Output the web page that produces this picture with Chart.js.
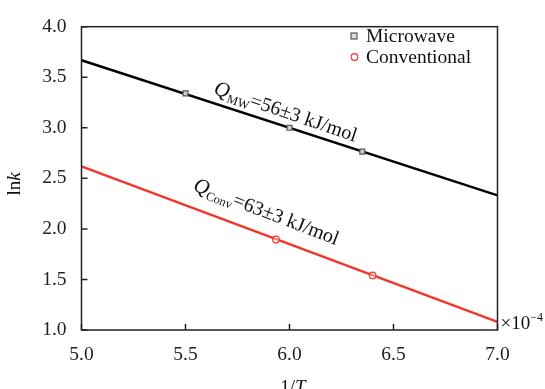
<!DOCTYPE html>
<html>
<head>
<meta charset="utf-8">
<script src="https://cdn.jsdelivr.net/npm/chart.js@4/dist/chart.umd.min.js"></script>
<style>
  html, body { margin: 0; padding: 0; background: #fff; }
</style>
</head>
<body>
<canvas id="chart" width="545" height="389"></canvas>
<script>
// data
const xTickValues = [5.0, 5.5, 6.0, 6.5, 7.0];
const yTickValues = [1.0, 1.5, 2.0, 2.5, 3.0, 3.5, 4.0];
const mwX = [5.5, 6.0, 6.35];
const mwY = [3.34, 3.0, 2.765];
const convX = [5.935, 6.4];
const convY = [1.895, 1.54];
const mwFitX = [5.0, 7.0];
const mwFitY = [3.668, 2.332];
const convFitX = [5.0, 7.0];
const convFitY = [2.619, 1.08];

const SERIF = '"Liberation Serif", "Times New Roman", serif';
const RED = "#f2362a";
const AXIS = "#222";

const pts = (xs, ys) => xs.map((x, i) => ({ x, y: ys[i] }));

// draw a row of text pieces (for italics / sub- and superscripts)
function drawRuns(ctx, runs, x, y, align) {
  let total = 0;
  runs.forEach((r) => { ctx.font = r.font; total += ctx.measureText(r.t).width; });
  let cx = align === "center" ? x - total / 2 : x;
  runs.forEach((r) => {
    ctx.font = r.font;
    ctx.fillText(r.t, cx, y + (r.dy || 0));
    cx += ctx.measureText(r.t).width;
  });
}

const framePlugin = {
  id: "frame",
  afterDraw(chart) {
    const { ctx, chartArea: a, scales } = chart;
    ctx.save();
    ctx.strokeStyle = AXIS;
    ctx.lineWidth = 1.5;
    ctx.strokeRect(a.left, a.top, a.right - a.left, a.bottom - a.top);
    // inward ticks
    ctx.beginPath();
    scales.x.ticks.forEach((t) => {
      const px = scales.x.getPixelForValue(t.value);
      ctx.moveTo(px, a.bottom);
      ctx.lineTo(px, a.bottom - 6);
    });
    scales.y.ticks.forEach((t) => {
      const py = scales.y.getPixelForValue(t.value);
      ctx.moveTo(a.left, py);
      ctx.lineTo(a.left + 6, py);
    });
    ctx.stroke();
    ctx.restore();
  },
};

const textPlugin = {
  id: "texts",
  afterDraw(chart) {
    const { ctx, chartArea: a, scales } = chart;
    ctx.save();
    ctx.fillStyle = "#111";
    ctx.textBaseline = "alphabetic";

    // fit labels along the lines
    const label = (xv, yv, deg, sub) => {
      ctx.save();
      ctx.translate(scales.x.getPixelForValue(xv), scales.y.getPixelForValue(yv));
      ctx.rotate((deg * Math.PI) / 180);
      drawRuns(ctx, [
        { t: "Q", font: "italic 21px " + SERIF },
        { t: sub[0], font: "12.5px " + SERIF, dy: 4 },
        { t: sub[1], font: "20px " + SERIF },
      ], 0, 7, "center");
      ctx.restore();
    };
    label(5.983, 3.167, 18.8, ["MW", "=56\u00b13 kJ/mol"]);
    label(5.89, 2.177, 21, ["Conv", "=63\u00b13 kJ/mol"]);

    // x-axis multiplier
    drawRuns(ctx, [
      { t: "\u00d710", font: "19px " + SERIF },
      { t: "\u22124", font: "12px " + SERIF, dy: -8 },
    ], a.right + 3, a.bottom - 1, "left");

    // axis titles
    drawRuns(ctx, [
      { t: "1/", font: "19px " + SERIF },
      { t: "T", font: "italic 19px " + SERIF },
    ], 293, 393, "center");
    ctx.save();
    ctx.translate(20, 184);
    ctx.rotate(-Math.PI / 2);
    drawRuns(ctx, [
      { t: "ln", font: "19px " + SERIF },
      { t: "k", font: "italic 19px " + SERIF },
    ], 0, 0, "center");
    ctx.restore();

    // legend
    ctx.textBaseline = "middle";
    ctx.font = "19.5px " + SERIF;
    ctx.lineWidth = 1.2;
    ctx.strokeStyle = "#555";
    ctx.fillStyle = "#ddd";
    ctx.fillRect(351, 33, 6, 6);
    ctx.strokeRect(351, 33, 6, 6);
    ctx.strokeStyle = RED;
    ctx.beginPath();
    ctx.arc(354.5, 57, 3.3, 0, Math.PI * 2);
    ctx.stroke();
    ctx.fillStyle = "#111";
    ctx.fillText("Microwave", 366, 37);
    ctx.fillText("Conventional", 366, 58);
    ctx.restore();
  },
};

new Chart(document.getElementById("chart"), {
  type: "scatter",
  data: {
    datasets: [
      {
        label: "Microwave",
        data: pts(mwX, mwY),
        pointStyle: "rect",
        pointRadius: 3.5,
        borderColor: "#555",
        backgroundColor: "#ccc",
        borderWidth: 1.2,
      },
      {
        label: "Conventional",
        data: pts(convX, convY),
        pointStyle: "circle",
        pointRadius: 3.3,
        borderColor: RED,
        backgroundColor: "rgba(255,255,255,0.4)",
        borderWidth: 1.2,
      },
      {
        label: "MW fit",
        data: pts(mwFitX, mwFitY),
        showLine: true,
        borderColor: "#000",
        borderWidth: 2.4,
        pointRadius: 0,
      },
      {
        label: "Conv fit",
        data: pts(convFitX, convFitY),
        showLine: true,
        borderColor: RED,
        borderWidth: 2.4,
        pointRadius: 0,
      },
    ],
  },
  options: {
    responsive: false,
    animation: false,
    layout: { padding: { left: 0, top: 20, right: 47.5, bottom: 0 } },
    plugins: { legend: { display: false }, tooltip: { enabled: false } },
    scales: {
      x: {
        type: "linear",
        min: 5.0,
        max: 7.0,
        afterBuildTicks: (s) => { s.ticks = xTickValues.map((v) => ({ value: v })); },
        afterFit: (s) => { s.height = 59; },
        grid: { display: false, drawTicks: false },
        border: { display: false },
        ticks: {
          padding: 13,
          color: "#222",
          font: { family: SERIF, size: 19.5 },
          callback: (v) => v.toFixed(1),
        },
      },
      y: {
        type: "linear",
        min: 1.0,
        max: 4.0,
        afterBuildTicks: (s) => { s.ticks = yTickValues.map((v) => ({ value: v })); },
        afterFit: (s) => { s.width = 81.5; },
        grid: { display: false, drawTicks: false },
        border: { display: false },
        ticks: {
          padding: 15,
          color: "#222",
          font: { family: SERIF, size: 19.5 },
          callback: (v) => v.toFixed(1),
        },
      },
    },
  },
  plugins: [framePlugin, textPlugin],
});
</script>
</body>
</html>
